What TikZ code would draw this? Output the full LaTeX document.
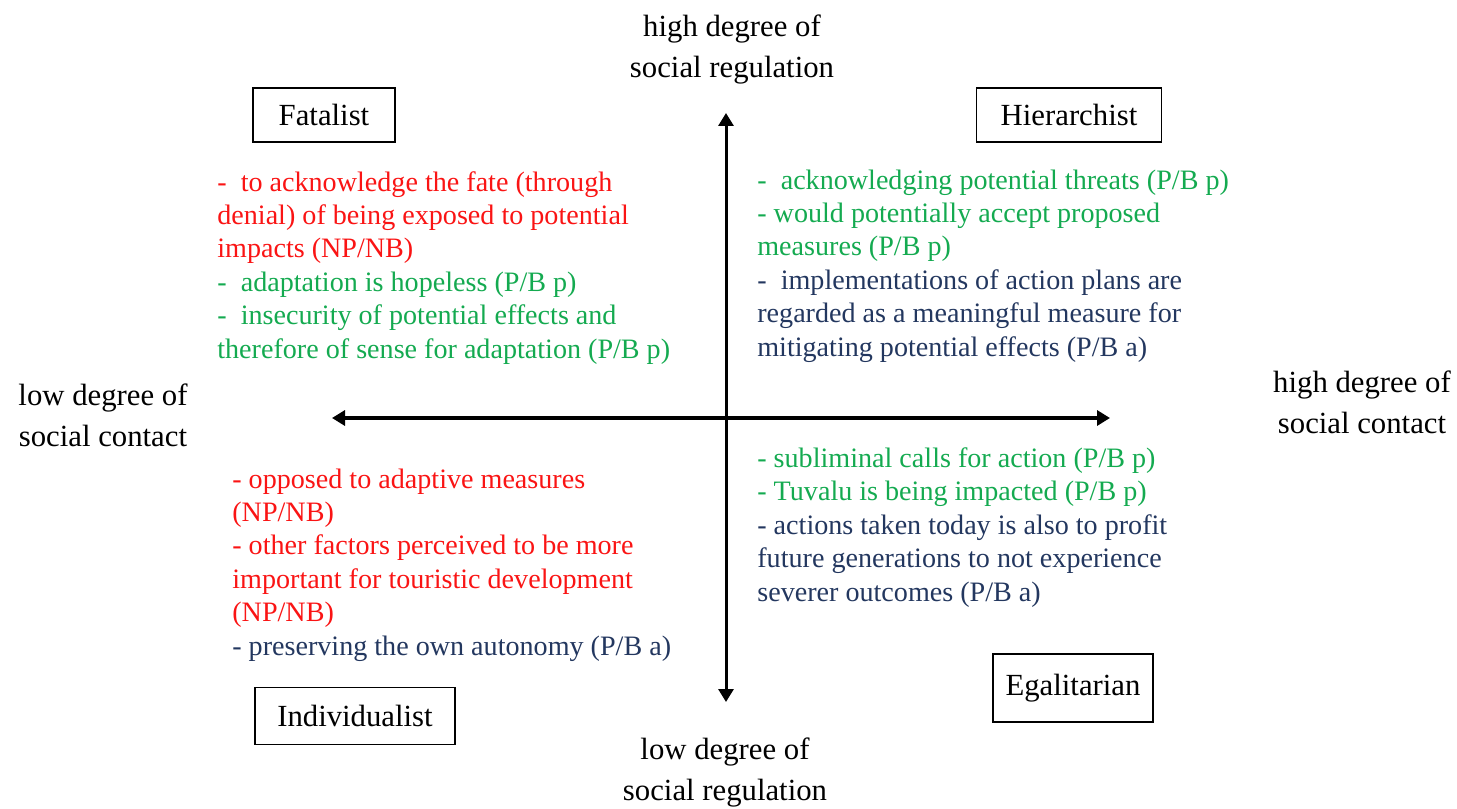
\documentclass[tikz,border=0pt]{standalone}
\usepackage{fontspec}
\setmainfont{Liberation Serif}
\usetikzlibrary{arrows.meta}
\definecolor{negred}{RGB}{250,20,20}
\definecolor{posgreen}{RGB}{20,170,80}
\definecolor{actnavy}{RGB}{35,55,95}
\begin{document}
\begin{tikzpicture}[x=0.02cm, y=-0.02cm,
	catbox/.style={shape=rectangle, draw, line width=0.9pt, inner sep=0pt, font=\fontsize{17.5}{21}\selectfont},
	axislabel/.style={anchor=base, align=center, inner sep=0pt, font=\fontsize{17.5}{23.3}\selectfont},
	pointlist/.style={anchor=base west, align=left, inner sep=0pt, font=\fontsize{16}{19}\selectfont},
	axisline/.style={line width=#1, {Triangle[length=0.26cm, width=0.3cm]}-{Triangle[length=0.26cm, width=0.3cm]}}]
	\useasboundingbox (0, 0) rectangle (1457, 808);
	% Paths, nodes and wires (text nodes sit on their last baseline):
	\coordinate (contactlow) at (332, 418);
	\coordinate (contacthigh) at (1110, 418);
	\coordinate (regulhigh) at (726, 113);
	\coordinate (regullow) at (726, 702);
	\draw[axisline=2.3pt] (contactlow) -- (contacthigh);
	\draw[axisline=1.7pt] (regullow) -- (regulhigh);
	\node[axislabel] (reghighlabel) at (732, 77){high degree of\\social regulation};
	\node[axislabel] (reglowlabel) at (725, 800){low degree of\\social regulation};
	\node[axislabel] (conlowlabel) at (103, 446){low degree of\\social contact};
	\node[axislabel] (conhighlabel) at (1362, 433){high degree of\\social contact};
	\node[catbox, minimum width=2.84cm, minimum height=1.08cm] (fatalist) at (324, 115){Fatalist};
	\node[catbox, minimum width=3.7cm, minimum height=1.08cm] (hierarchist) at (1069, 115){Hierarchist};
	\node[catbox, minimum width=4cm, minimum height=1.14cm] (individualist) at (355, 716){Individualist};
	\node[catbox, minimum width=3.2cm, minimum height=1.36cm] (egalitarian) at (1073, 688){Egalitarian};
	\node[pointlist] (fatalistpoints) at (217, 358){\color{negred}-~ to acknowledge the fate (through\\
		\color{negred}denial) of being exposed to potential\\
		\color{negred}impacts (NP/NB)\\
		\color{posgreen}-~ adaptation is hopeless (P/B p)\\
		\color{posgreen}-~ insecurity of potential effects and\\
		\color{posgreen}therefore of sense for adaptation (P/B p)};
	\node[pointlist] (hierarchistpoints) at (757, 356){\color{posgreen}-~ acknowledging potential threats (P/B p)\\
		\color{posgreen}- would potentially accept proposed\\
		\color{posgreen}measures (P/B p)\\
		\color{actnavy}-~ implementations of action plans are\\
		\color{actnavy}regarded as a meaningful measure for\\
		\color{actnavy}mitigating potential effects (P/B a)};
	\node[pointlist] (individualistpoints) at (232, 655){\color{negred}- opposed to adaptive measures\\
		\color{negred}(NP/NB)\\
		\color{negred}- other factors perceived to be more\\
		\color{negred}important for touristic development\\
		\color{negred}(NP/NB)\\
		\color{actnavy}- preserving the own autonomy (P/B a)};
	\node[pointlist] (egalitarianpoints) at (757, 601){\color{posgreen}- subliminal calls for action (P/B p)\\
		\color{posgreen}- Tuvalu is being impacted (P/B p)\\
		\color{actnavy}- actions taken today is also to profit\\
		\color{actnavy}future generations to not experience\\
		\color{actnavy}severer outcomes (P/B a)};
\end{tikzpicture}
\end{document}
